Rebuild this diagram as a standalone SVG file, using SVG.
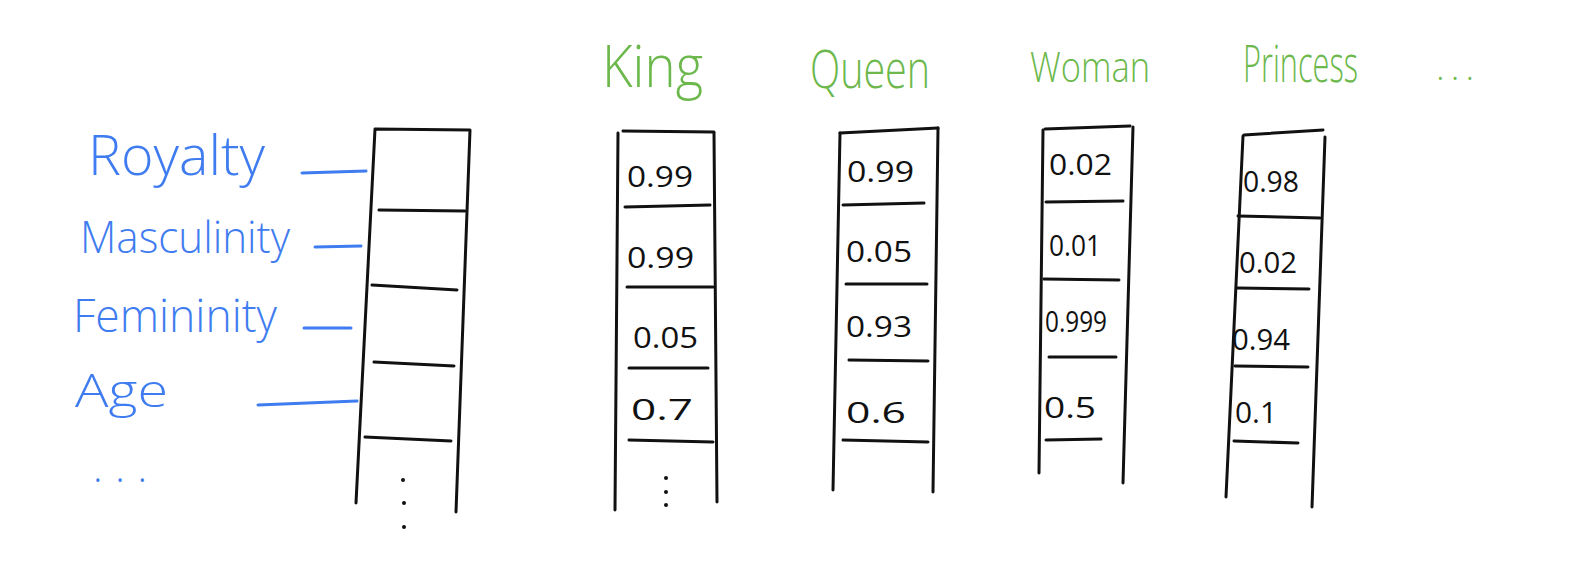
<svg xmlns="http://www.w3.org/2000/svg" width="1586" height="566" viewBox="0 0 1586 566">
<style>
.box{fill:none;stroke:#111;stroke-width:3;stroke-linecap:round;stroke-linejoin:round}
.conn{fill:none;stroke:#3f7cf0;stroke-width:3;stroke-linecap:round}
.feat{font-family:"Open Sans","Liberation Sans",sans-serif;font-weight:300;fill:#3f7cf0}
.word{font-family:"Open Sans","Liberation Sans",sans-serif;font-weight:300;fill:#6cb84c}
.val{font-family:"Open Sans","Liberation Sans",sans-serif;font-weight:400;fill:#111;font-size:30px}
.dot{fill:#111}
</style>
<rect width="1586" height="566" fill="#fff"/>

<g id="features">
<text class="feat" x="88" y="175" font-size="56" textLength="177" lengthAdjust="spacingAndGlyphs">Royalty</text>
<text class="feat" x="80" y="253" font-size="44" textLength="210" lengthAdjust="spacingAndGlyphs">Masculinity</text>
<text class="feat" x="73" y="332" font-size="46" textLength="204" lengthAdjust="spacingAndGlyphs">Femininity</text>
<text class="feat" x="75" y="407" font-size="46" textLength="93" lengthAdjust="spacingAndGlyphs">Age</text>
<text class="feat" x="93" y="482" font-size="40" textLength="54" lengthAdjust="spacing">...</text>
</g>

<g id="connectors">
<line class="conn" x1="302" y1="173" x2="366" y2="171"/>
<line class="conn" x1="315" y1="247" x2="361" y2="246"/>
<line class="conn" x1="304" y1="328" x2="351" y2="328"/>
<line class="conn" x1="258" y1="405" x2="357" y2="401"/>
</g>

<g id="vector-template">
<polyline class="box" points="356,503 375,129 470,130 456,512"/>
<line class="box" x1="379" y1="210" x2="465" y2="211"/>
<line class="box" x1="372" y1="285" x2="457" y2="290"/>
<line class="box" x1="374" y1="362" x2="454" y2="366"/>
<line class="box" x1="365" y1="437" x2="451" y2="441"/>
<circle class="dot" cx="403" cy="480" r="2"/>
<circle class="dot" cx="404" cy="503" r="2"/>
<circle class="dot" cx="404" cy="527" r="2"/>
</g>

<g id="king">
<text class="word" x="602" y="87" font-size="58" textLength="101" lengthAdjust="spacingAndGlyphs">King</text>
<polyline class="box" points="615,510 618,133"/>
<line class="box" x1="623" y1="131" x2="714" y2="132"/>
<line class="box" x1="714" y1="133" x2="717" y2="502"/>
<line class="box" x1="625" y1="207" x2="710" y2="205"/>
<line class="box" x1="627" y1="287" x2="713" y2="287"/>
<line class="box" x1="629" y1="368" x2="708" y2="368"/>
<line class="box" x1="629" y1="440" x2="713" y2="442"/>
<text class="val" x="627" y="187" textLength="66" lengthAdjust="spacingAndGlyphs">0.99</text>
<text class="val" x="627" y="268" textLength="67" lengthAdjust="spacingAndGlyphs">0.99</text>
<text class="val" x="633" y="348" textLength="65" lengthAdjust="spacingAndGlyphs">0.05</text>
<text class="val" x="631" y="420" textLength="62" lengthAdjust="spacingAndGlyphs">0.7</text>
<circle class="dot" cx="666" cy="478" r="2"/>
<circle class="dot" cx="666" cy="492" r="2"/>
<circle class="dot" cx="666" cy="505" r="2"/>
</g>

<g id="queen">
<text class="word" x="810" y="88" font-size="54" textLength="120" lengthAdjust="spacingAndGlyphs">Queen</text>
<line class="box" x1="840" y1="133" x2="833" y2="490"/>
<line class="box" x1="840" y1="133" x2="938" y2="128"/>
<line class="box" x1="938" y1="128" x2="933" y2="492"/>
<line class="box" x1="843" y1="205" x2="924" y2="203"/>
<line class="box" x1="846" y1="284" x2="927" y2="284"/>
<line class="box" x1="849" y1="360" x2="928" y2="361"/>
<line class="box" x1="843" y1="440" x2="928" y2="442"/>
<text class="val" x="847" y="182" textLength="67" lengthAdjust="spacingAndGlyphs">0.99</text>
<text class="val" x="846" y="262" textLength="66" lengthAdjust="spacingAndGlyphs">0.05</text>
<text class="val" x="846" y="337" textLength="66" lengthAdjust="spacingAndGlyphs">0.93</text>
<text class="val" x="846" y="423" textLength="60" lengthAdjust="spacingAndGlyphs">0.6</text>
</g>

<g id="woman">
<text class="word" x="1030" y="82" font-size="42" textLength="120" lengthAdjust="spacingAndGlyphs">Woman</text>
<line class="box" x1="1043" y1="130" x2="1039" y2="473"/>
<line class="box" x1="1045" y1="129" x2="1130" y2="126"/>
<line class="box" x1="1133" y1="127" x2="1123" y2="483"/>
<line class="box" x1="1046" y1="202" x2="1123" y2="201"/>
<line class="box" x1="1044" y1="279" x2="1119" y2="280"/>
<line class="box" x1="1049" y1="357" x2="1116" y2="357"/>
<line class="box" x1="1046" y1="440" x2="1101" y2="439"/>
<text class="val" x="1049" y="175" font-size="24" textLength="63" lengthAdjust="spacingAndGlyphs">0.02</text>
<text class="val" x="1049" y="256" font-size="24" textLength="52" lengthAdjust="spacingAndGlyphs">0.01</text>
<text class="val" x="1045" y="332" font-size="24" textLength="62" lengthAdjust="spacingAndGlyphs">0.999</text>
<text class="val" x="1044" y="418" textLength="52" lengthAdjust="spacingAndGlyphs">0.5</text>
</g>

<g id="princess">
<text class="word" x="1243" y="82" font-size="52" textLength="115" lengthAdjust="spacingAndGlyphs">Princess</text>
<line class="box" x1="1243" y1="136" x2="1226" y2="497"/>
<line class="box" x1="1244" y1="135" x2="1323" y2="130"/>
<line class="box" x1="1325" y1="137" x2="1312" y2="507"/>
<line class="box" x1="1238" y1="216" x2="1320" y2="218"/>
<line class="box" x1="1237" y1="288" x2="1309" y2="289"/>
<line class="box" x1="1235" y1="366" x2="1308" y2="367"/>
<line class="box" x1="1234" y1="441" x2="1298" y2="443"/>
<text class="val" x="1243" y="192" font-size="28" textLength="56" lengthAdjust="spacingAndGlyphs">0.98</text>
<text class="val" x="1239" y="273" font-size="28" textLength="58" lengthAdjust="spacingAndGlyphs">0.02</text>
<text class="val" x="1232" y="350" font-size="28" textLength="58" lengthAdjust="spacingAndGlyphs">0.94</text>
<text class="val" x="1235" y="423" font-size="28" textLength="42" lengthAdjust="spacingAndGlyphs">0.1</text>
</g>

<g id="more-words">
<text class="word" x="1436" y="80" font-size="36" textLength="38" lengthAdjust="spacing">...</text>
</g>
</svg>
